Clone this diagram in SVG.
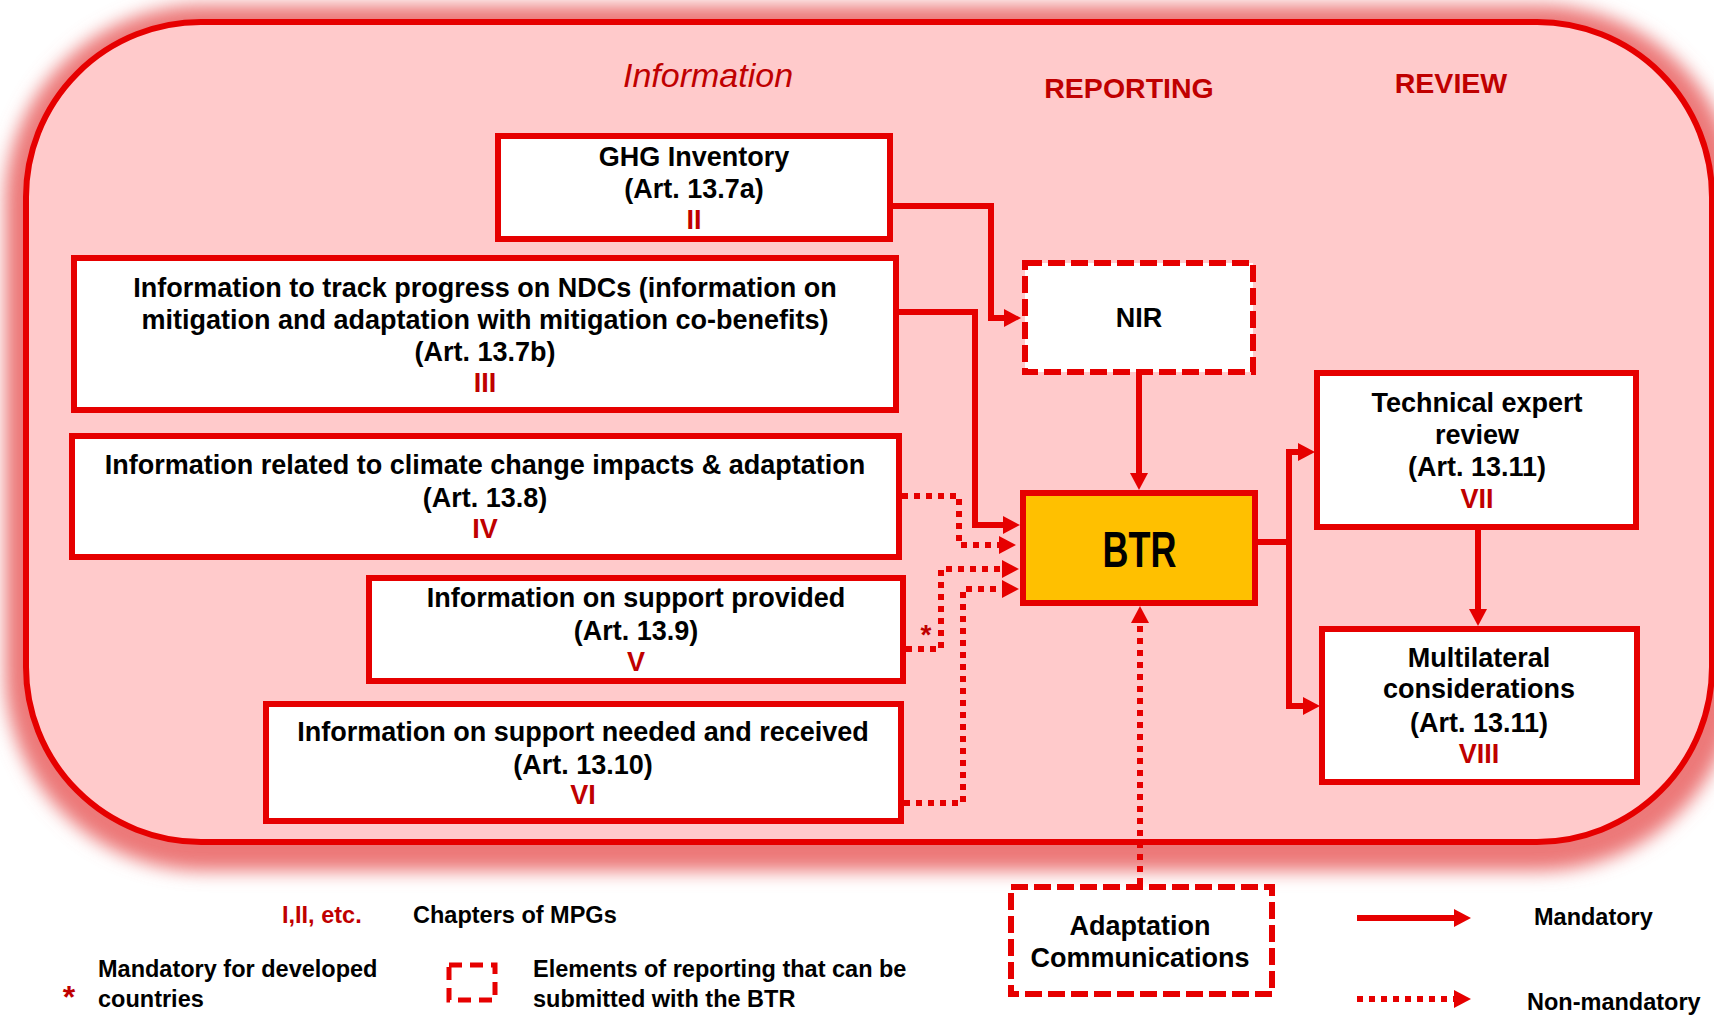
<svg xmlns="http://www.w3.org/2000/svg" width="1714" height="1018" viewBox="0 0 1714 1018">
<defs>
<filter id="glow" x="-5%" y="-10%" width="110%" height="120%">
<feGaussianBlur stdDeviation="9"/>
</filter>
<marker id="arr" markerUnits="userSpaceOnUse" markerWidth="17" markerHeight="18" viewBox="0 0 17 18" refX="5" refY="9" orient="auto">
<path d="M0,0 L17,9 L0,18 z" fill="#E60000"/>
</marker>
</defs>
<style>
.box{fill:#fff;stroke:#E60000;stroke-width:6}
.dash{fill:#fff;stroke:#E60000;stroke-width:6;stroke-dasharray:17 6}
.t{font-family:"Liberation Sans",Arial,sans-serif;font-weight:bold;font-size:27px;fill:#000;text-anchor:middle}
.n{fill:#C00000}
.hd{font-family:"Liberation Sans",Arial,sans-serif;font-weight:bold;font-size:28.5px;fill:#C00000;text-anchor:middle}
.lg{font-family:"Liberation Sans",Arial,sans-serif;font-weight:bold;font-size:23.5px;fill:#000}
.solid{fill:none;stroke:#E60000;stroke-width:6;marker-end:url(#arr)}
.dot{fill:none;stroke:#E60000;stroke-width:6;stroke-dasharray:6 6;marker-end:url(#arr)}
</style>
<rect width="1714" height="1018" fill="#fff"/>
<g id="background">
<rect x="28" y="28" width="1686" height="820" rx="175" ry="175" fill="none" stroke="#EC7878" stroke-width="46" filter="url(#glow)"/>
<rect x="26" y="22" width="1686" height="820" rx="175" ry="175" fill="#FFCACB" stroke="#E60000" stroke-width="6"/>
</g>
<g id="headers">
<text x="708" y="87" font-family="Liberation Sans, Arial, sans-serif" font-style="italic" font-size="34" fill="#C00000" text-anchor="middle">Information</text>
<text class="hd" x="1129" y="98">REPORTING</text>
<text class="hd" x="1451" y="93">REVIEW</text>
</g>
<g id="connectors">
<path class="solid" d="M893,206 H991 V318 H1009"/>
<path class="solid" d="M899,312 H975 V525 H1008"/>
<path class="solid" d="M1139,375 V478"/>
<path class="dot" d="M902,496 H959 V545 H1004"/>
<path class="dot" d="M906,649 H941 V569 H1007"/>
<path class="dot" d="M904,803 H963 V589 H1007"/>
<path class="dot" d="M1140,884 V618"/>
<path class="solid" d="M1258,542 H1289 V452 H1303"/>
<path class="solid" d="M1289,542 V706 H1308"/>
<path class="solid" d="M1478,530 V614"/>
<text x="926" y="644" font-family="Liberation Sans, Arial, sans-serif" font-weight="bold" font-size="28" fill="#C00000" text-anchor="middle">*</text>
</g>
<g id="ghg">
<rect class="box" x="498" y="136" width="392" height="103"/>
<text class="t" x="694" y="166">GHG Inventory</text>
<text class="t" x="694" y="198">(Art. 13.7a)</text>
<text class="t n" x="694" y="229">II</text>
</g>
<g id="ndc">
<rect class="box" x="74" y="258" width="822" height="152"/>
<text class="t" x="485" y="297">Information to track progress on NDCs (information on</text>
<text class="t" x="485" y="329">mitigation and adaptation with mitigation co-benefits)</text>
<text class="t" x="485" y="361">(Art. 13.7b)</text>
<text class="t n" x="485" y="392">III</text>
</g>
<g id="climate">
<rect class="box" x="72" y="436" width="827" height="121"/>
<text class="t" x="485" y="474">Information related to climate change impacts &amp; adaptation</text>
<text class="t" x="485" y="507">(Art. 13.8)</text>
<text class="t n" x="485" y="538">IV</text>
</g>
<g id="provided">
<rect class="box" x="369" y="578" width="534" height="103"/>
<text class="t" x="636" y="607">Information on support provided</text>
<text class="t" x="636" y="640">(Art. 13.9)</text>
<text class="t n" x="636" y="671">V</text>
</g>
<g id="needed">
<rect class="box" x="266" y="704" width="635" height="117"/>
<text class="t" x="583" y="741">Information on support needed and received</text>
<text class="t" x="583" y="774">(Art. 13.10)</text>
<text class="t n" x="583" y="804">VI</text>
</g>
<g id="nir">
<rect class="dash" x="1025" y="263" width="228" height="109"/>
<text class="t" x="1139" y="327">NIR</text>
</g>
<g id="btr">
<rect x="1023" y="493" width="232" height="110" fill="#FFC000" stroke="#E60000" stroke-width="6"/>
<text x="1139.5" y="567" font-family="Liberation Sans, Arial, sans-serif" font-weight="bold" font-size="50" text-anchor="middle" textLength="74" lengthAdjust="spacingAndGlyphs">BTR</text>
</g>
<g id="ter">
<rect class="box" x="1317" y="373" width="319" height="154"/>
<text class="t" x="1477" y="412">Technical expert</text>
<text class="t" x="1477" y="444">review</text>
<text class="t" x="1477" y="476">(Art. 13.11)</text>
<text class="t n" x="1477" y="508">VII</text>
</g>
<g id="multilateral">
<rect class="box" x="1322" y="629" width="315" height="153"/>
<text class="t" x="1479" y="667">Multilateral</text>
<text class="t" x="1479" y="698">considerations</text>
<text class="t" x="1479" y="732">(Art. 13.11)</text>
<text class="t n" x="1479" y="763">VIII</text>
</g>
<g id="adaptation-communications">
<rect class="dash" x="1011" y="887" width="261" height="107"/>
<text class="t" x="1140" y="935">Adaptation</text>
<text class="t" x="1140" y="967">Communications</text>
</g>
<g id="legend">
<text class="lg" x="282" y="923" style="fill:#C00000">I,II, etc.</text>
<text class="lg" x="413" y="923">Chapters of MPGs</text>
<text x="69" y="1008" font-family="Liberation Sans, Arial, sans-serif" font-weight="bold" font-size="32" fill="#C00000" text-anchor="middle">*</text>
<text class="lg" x="98" y="977">Mandatory for developed</text>
<text class="lg" x="98" y="1007">countries</text>
<rect x="449" y="965" width="46" height="35" fill="none" stroke="#E60000" stroke-width="5" stroke-dasharray="13 8"/>
<text class="lg" x="533" y="977">Elements of reporting that can be</text>
<text class="lg" x="533" y="1007">submitted with the BTR</text>
<path class="solid" d="M1357,918 H1459"/>
<path class="dot" d="M1357,999 H1459"/>
<text class="lg" x="1534" y="925">Mandatory</text>
<text class="lg" x="1527" y="1010">Non-mandatory</text>
</g>
</svg>
